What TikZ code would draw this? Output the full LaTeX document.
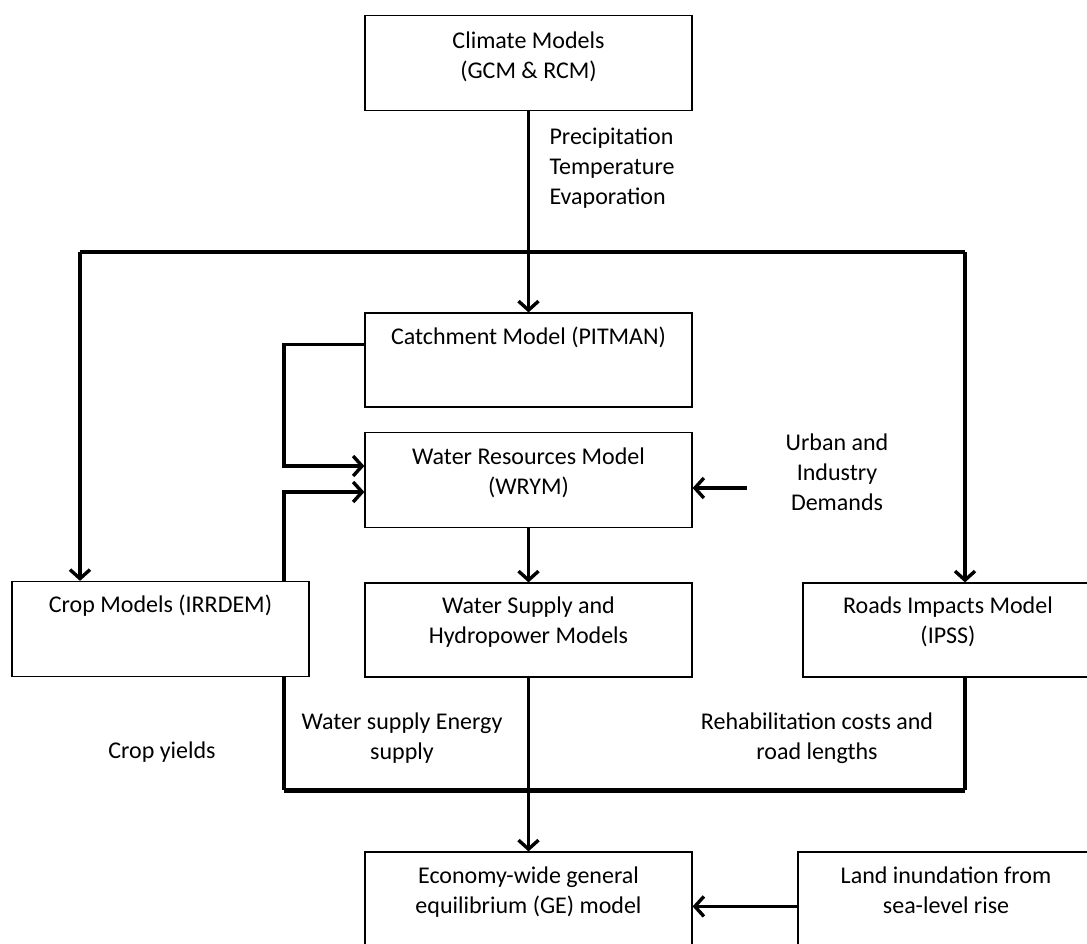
\documentclass[tikz,border=0pt]{standalone}
\usepackage{fontspec}
\setmainfont{Carlito}
\usetikzlibrary{calc, arrows.meta}

\begin{document}
\begin{tikzpicture}[x=1pt,y=-1pt,
	model/.style={draw,line width=1.2pt,minimum width=327pt,minimum height=95pt,inner sep=0pt},
	txt/.style={align=center,font=\fontsize{24}{30}\selectfont},
	flow/.style={line width=3.4pt},
	arr/.style={flow,-{Straight Barb[length=9pt,width=20pt]}}]
	\useasboundingbox (0,0) rectangle (1087,943);
	% boxes
	\node[model,label={[txt,anchor=north,yshift=-13pt]north:Climate Models\\(GCM \& RCM)}] (climate) at (528.5,63) {};
	\node[model,minimum height=94pt,label={[txt,anchor=north,yshift=-11pt]north:Catchment Model (PITMAN)}] (catch) at (528.5,360) {};
	\node[model,label={[txt,anchor=north,yshift=-12pt]north:Water Resources Model\\(WRYM)}] (wrym) at (528.5,480) {};
	\node[model,minimum width=297pt,label={[txt,anchor=north,yshift=-11pt]north:Crop Models (IRRDEM)}] (crop) at (160.5,629) {};
	\node[model,minimum height=94pt,label={[txt,anchor=north,yshift=-11pt]north:Water Supply and\\Hydropower Models}] (supply) at (528.5,630) {};
	\node[model,minimum width=290pt,minimum height=94pt,label={[txt,anchor=north,yshift=-11pt]north:Roads Impacts Model\\(IPSS)}] (roads) at (948,630) {};
	\node[model,minimum height=98pt,label={[txt,anchor=north,yshift=-12pt]north:Economy-wide general\\equilibrium (GE) model}] (ge) at (528.5,901) {};
	\node[model,minimum width=296pt,minimum height=98pt,label={[txt,anchor=north,yshift=-12pt]north:Land inundation from\\sea-level rise}] (land) at (946,901) {};
	% free labels
	\node[txt,align=left,anchor=west] (vars) at (546,168) {Precipitation\\Temperature\\Evaporation};
	\node[txt] (urban) at (837,472) {Urban and\\Industry\\Demands};
	\node[txt] (yields) at (162,752) {Crop yields};
	\node[txt] (wsupply) at (402,738) {Water supply Energy\\supply};
	\node[txt] (rehab) at (817,738) {Rehabilitation costs and\\road lengths};
	% climate forcing
	\coordinate (jl) at (80,252);
	\coordinate (jr) at (965,252);
	\draw[arr] (climate.south) -- (catch.north);
	\draw[flow] (jl) -- (jr);
	\draw[arr] (jl) -- (jl |- crop.north);
	\draw[arr] (jr) -- (jr |- roads.north);
	% into water resources
	\coordinate (cw) at ($(catch.north west)+(0,32)$);
	\coordinate (up) at (284,466);
	\coordinate (lo) at (284,492);
	\draw[arr] (cw) -- (cw -| up) -- (up) -- (up -| wrym.west);
	\draw[arr] (lo |- crop.north) -- (lo) -- (lo -| wrym.west);
	\coordinate (ud) at (747,488);
	\draw[arr] (ud) -- (ud -| wrym.east);
	\draw[arr] (wrym.south) -- (supply.north);
	% into GE model
	\coordinate (bl) at (284,790);
	\coordinate (br) at (965,790);
	\draw[flow] (bl |- crop.south) -- (bl);
	\draw[flow] (br |- roads.south) -- (br);
	\draw[line width=5pt] (bl) -- (br);
	\draw[arr] (supply.south) -- (ge.north);
	\coordinate (li) at ($(land.north west)+(0,55)$);
	\draw[arr] (li) -- (li -| ge.east);
\end{tikzpicture}
\end{document}
